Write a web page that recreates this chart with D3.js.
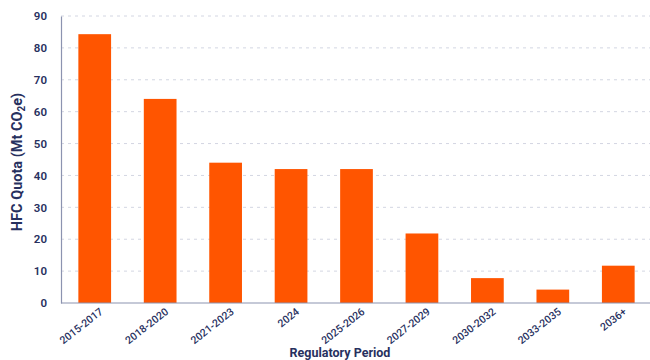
<!DOCTYPE html>
<html><head><meta charset="utf-8">
<script src="https://cdn.jsdelivr.net/npm/d3@7"></script>
<style>
html,body{margin:0;padding:0;background:#fff;}
text{font-family:Roboto,"Noto Sans",sans-serif;}
</style></head>
<body><svg id="c" width="650" height="360"></svg>
<script>
const categories = ["2015-2017","2018-2020","2021-2023","2024","2025-2026","2027-2029","2030-2032","2033-2035","2036+"];
const values = [84.3, 64.0, 44.0, 42.0, 42.0, 21.8, 7.8, 4.2, 11.7];
const yTicks = [0,10,20,30,40,50,60,70,80,90];

const svg = d3.select("#c");
const m = {l:61, r:650, t:16, b:303};
const x = d3.scaleBand().domain(categories).range([m.l+1, m.r+1]).paddingInner(0.5).paddingOuter(0.25);
const y = d3.scaleLinear().domain([0,90]).range([m.b, m.t]);
const navy = "#27305e";

// gridlines
svg.append("g").selectAll("line").data(yTicks.filter(d=>d>0)).join("line")
  .attr("x1", m.l).attr("x2", m.r).attr("y1", d=>y(d)).attr("y2", d=>y(d))
  .attr("stroke", "#d3d6e2").attr("stroke-width", 1).attr("stroke-dasharray", "3,4");

// bars
svg.append("g").selectAll("rect").data(values).join("rect")
  .attr("x", (d,i)=>x(categories[i])).attr("width", x.bandwidth())
  .attr("y", d=>y(d)).attr("height", d=>y(0)-y(d))
  .attr("fill", "#ff5500");

// y axis
const ya = svg.append("g").attr("transform", `translate(${m.l},0)`)
  .call(d3.axisLeft(y).tickValues(yTicks).tickSize(0).tickPadding(14));
ya.select(".domain").attr("stroke", "#8c93b0").attr("stroke-width", 1.2);
ya.selectAll("text").attr("fill", navy).attr("font-size", 11.5).attr("font-weight", 600);

// x axis
const xa = svg.append("g").attr("transform", `translate(0,${m.b})`)
  .call(d3.axisBottom(x).tickSize(0).tickPadding(0));
xa.select(".domain").attr("d", `M${m.l},0H${m.r}`).attr("stroke", "#8c93b0").attr("stroke-width", 1.2);
xa.selectAll("text").attr("fill", navy).attr("font-size", 10.5).attr("font-weight", 500)
  .attr("text-anchor", "end").attr("dy", 0)
  .attr("transform", "translate(9,10) rotate(-38)");

// axis titles
const yt = svg.append("text").attr("transform", "translate(22,162) rotate(-90)")
  .attr("text-anchor", "middle").attr("fill", navy).attr("font-size", 14.5).attr("font-weight", 700);
yt.append("tspan").text("HFC Quota (Mt CO");
yt.append("tspan").text("2").attr("font-size", 10).attr("dy", 3);
yt.append("tspan").text("e)").attr("dy", -3);

svg.append("text").attr("x", 340).attr("y", 357).attr("text-anchor", "middle")
  .attr("fill", navy).attr("font-size", 12.5).attr("font-weight", 700).text("Regulatory Period");
</script></body></html>
